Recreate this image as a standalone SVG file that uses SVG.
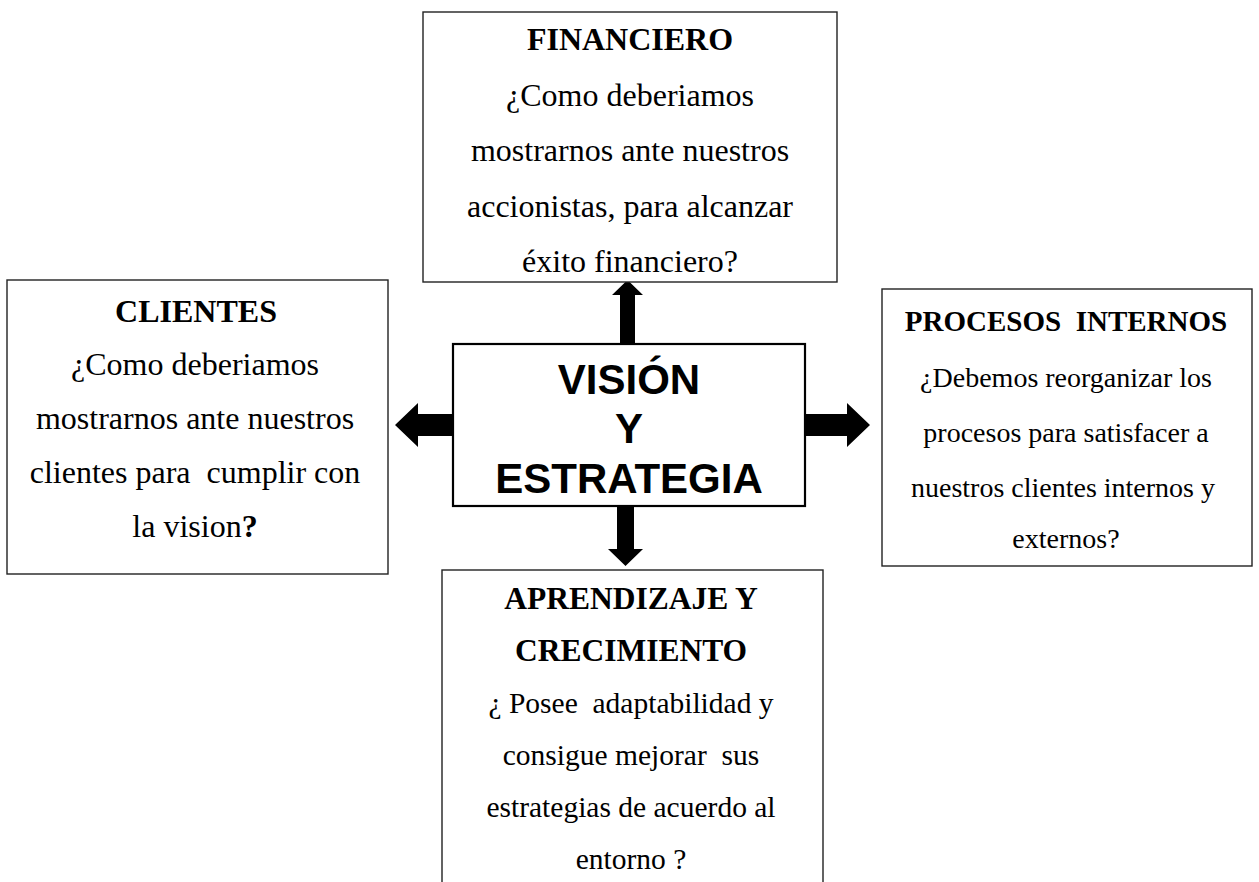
<svg xmlns="http://www.w3.org/2000/svg" width="1259" height="882" viewBox="0 0 1259 882">
<style>
.box{fill:#fff;stroke:#222;stroke-width:1.4}
.core{fill:#fff;stroke:#000;stroke-width:2.2}
.t{font-family:"Liberation Serif","Times New Roman",serif;fill:#000;text-anchor:middle}
.b{font-weight:bold}
.c{font-family:"Liberation Sans",Arial,sans-serif;font-weight:bold;font-size:42px;fill:#000;text-anchor:middle}
.arr{fill:#000}
</style>
<rect width="1259" height="882" fill="#fff"/>
<g id="connectors">
<polygon class="arr" points="620,344 620,295 612,295 627.5,280 643,295 635,295 635,344"/>
<polygon class="arr" points="453,414 418,414 418,403 395,425 418,447 418,436 453,436"/>
<polygon class="arr" points="805,414 847,414 847,403 870,425 847,447 847,436 805,436"/>
<polygon class="arr" points="617,506 617,549 608,549 625.5,566 643,549 634,549 634,506"/>
</g>
<g id="financiero">
<rect class="box" x="423" y="12" width="414" height="270"/>
<text class="t b" x="630" y="50" font-size="32">FINANCIERO</text>
<text class="t" x="630" y="105.5" font-size="32">¿Como deberiamos</text>
<text class="t" x="630" y="161" font-size="32">mostrarnos ante nuestros</text>
<text class="t" x="630" y="216.5" font-size="32">accionistas, para alcanzar</text>
<text class="t" x="630" y="272" font-size="32">éxito financiero?</text>
</g>
<g id="clientes">
<rect class="box" x="7" y="280" width="381" height="294"/>
<text class="t b" x="196" y="322" font-size="32">CLIENTES</text>
<text class="t" x="195" y="375" font-size="32">¿Como deberiamos</text>
<text class="t" x="195" y="429" font-size="32">mostrarnos ante nuestros</text>
<text class="t" x="195" y="483" font-size="32" xml:space="preserve">clientes para  cumplir con</text>
<text class="t" x="195" y="537" font-size="32">la vision<tspan font-weight="bold">?</tspan></text>
</g>
<g id="vision">
<rect class="core" x="453" y="344" width="352" height="162"/>
<text class="c" x="629" y="394">VISIÓN</text>
<text class="c" x="629" y="443">Y</text>
<text class="c" x="629" y="493">ESTRATEGIA</text>
</g>
<g id="procesos">
<rect class="box" x="882" y="289" width="370" height="277"/>
<text class="t b" x="1066" y="331" font-size="29" xml:space="preserve">PROCESOS  INTERNOS</text>
<text class="t" x="1066" y="387" font-size="28">¿Debemos reorganizar los</text>
<text class="t" x="1066" y="442" font-size="28">procesos para satisfacer a</text>
<text class="t" x="1063" y="497" font-size="28">nuestros clientes internos y</text>
<text class="t" x="1066" y="548" font-size="28">externos?</text>
</g>
<g id="aprendizaje">
<rect class="box" x="442" y="570" width="381" height="330"/>
<text class="t b" x="631" y="609" font-size="31.5">APRENDIZAJE Y</text>
<text class="t b" x="631" y="661" font-size="31.5">CRECIMIENTO</text>
<text class="t" x="631" y="713" font-size="29.5" xml:space="preserve">¿ Posee  adaptabilidad y</text>
<text class="t" x="631" y="765" font-size="29.5" xml:space="preserve">consigue mejorar  sus</text>
<text class="t" x="631" y="817" font-size="29.5">estrategias de acuerdo al</text>
<text class="t" x="631" y="869" font-size="29.5">entorno ?</text>
</g>
</svg>
